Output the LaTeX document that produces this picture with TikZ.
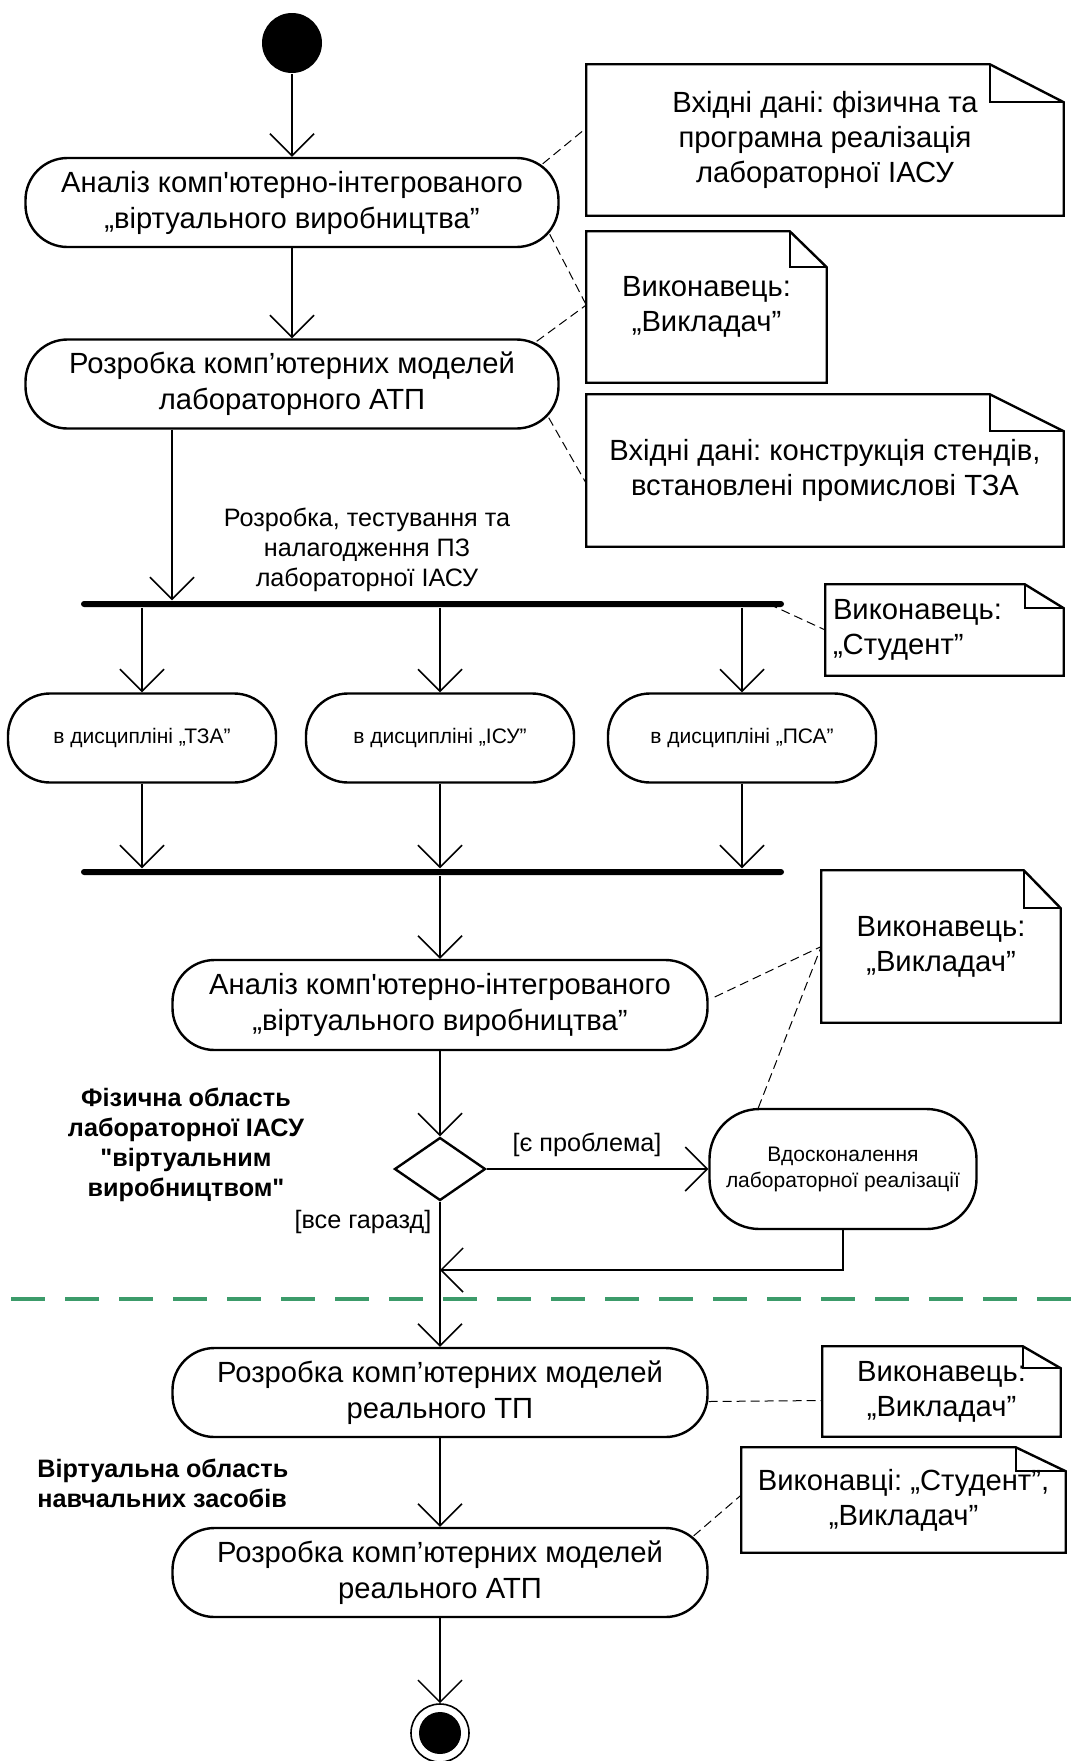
\documentclass[tikz,border=0pt]{standalone}
\usepackage{fontspec}
\setmainfont{Liberation Sans}[Ligatures=TeXOff]
\frenchspacing
\usetikzlibrary{arrows.meta, shapes.geometric, calc}
\definecolor{cgreen}{HTML}{3C9B6A}
\tikzset{
  every picture/.style={line width=0.75pt},
  act/.style={draw, line width=1.2pt, rounded corners=21pt, align=center, inner sep=2pt, minimum height=44.5pt, font=\fontsize{14.6}{18}\selectfont},
  actsm/.style={act, minimum width=134pt, font=\fontsize{10.5}{13}\selectfont},
  notebox/.style={align=center, inner sep=0pt, font=\fontsize{14.6}{17.5}\selectfont},
  noteline/.style={line width=1.2pt, line join=miter},
  flow/.style={-{Straight Barb[length=11pt, width=22pt]}, line width=0.75pt},
  link/.style={dash pattern=on 4.5pt off 2.5pt, line width=0.5pt},
  bar/.style={fill=black, rounded corners=1.5pt, inner sep=0pt, minimum height=3pt, minimum width=351.5pt},
  lbl/.style={font=\fontsize{12.6}{15}\selectfont, align=center},
  blbl/.style={lbl, font=\fontsize{12.6}{15}\selectfont\bfseries},
}
\newcommand{\foldnote}[3]{%
  \draw[noteline] (#1.north west) -- ([xshift=-#2]#1.north east) -- ([yshift=-#3]#1.north east)
    -- (#1.south east) -- (#1.south west) -- cycle;
  \draw[noteline] ([xshift=-#2]#1.north east) |- ([yshift=-#3]#1.north east);}

\begin{document}
\begin{tikzpicture}[x=0.5pt, y=-0.5pt]
  \useasboundingbox (0,0) rectangle (1075,1761);
  % top: models of the laboratory system
  \node[circle, fill=black, minimum size=30pt, inner sep=0pt] (start) at (292,43) {};
  \node[act, minimum width=266.5pt] (a1) at (292,202.5) {Аналіз комп'ютерно-інтегрованого\\„віртуального виробництва”};
  \node[act, minimum width=266.5pt] (a2) at (292,384) {Розробка комп’ютерних моделей\\лабораторного АТП};
  \node[notebox, minimum width=238pt, minimum height=75pt] (n1) at (825,140) {Вхідні дані: фізична та\\програмна реалізація\\лабораторної ІАСУ};
  \node[notebox, minimum width=119.5pt, minimum height=75pt] (n2) at (706.5,307) {Виконавець:\\„Викладач”};
  \node[notebox, minimum width=238pt, minimum height=75.5pt] (n3) at (825,470.5) {Вхідні дані: конструкція стендів,\\встановлені промислові ТЗА};
  \foldnote{n1}{37pt}{19pt} \foldnote{n2}{18.5pt}{18pt} \foldnote{n3}{37pt}{18.5pt}
  \draw[flow] (start) -- (a1);
  \draw[flow] (a1) -- (a2);
  \draw[link] ([xshift=-8.5pt,yshift=-3.5pt]a1.north east) -- ([yshift=6pt]n1.west);
  \draw[link] ([xshift=-5pt,yshift=7pt]a1.south east) -- ([yshift=1pt]n2.west);
  \draw[link] ([xshift=-11.5pt,yshift=-1.5pt]a2.north east) -- ([yshift=1pt]n2.west);
  \draw[link] ([xshift=-5.5pt,yshift=6pt]a2.south east) -- ([yshift=-6.5pt]n3.west);
  % fork into the three disciplines
  \node[bar] (fork) at (432.5,604) {};
  \node[bar] (join) at (432.5,872) {};
  \coordinate (a2out) at ([xshift=-60pt]a2.south);
  \draw[flow] (a2out) -- (a2out |- fork.north);
  \node[lbl] (dev) at (367,550) {Розробка, тестування та\\налагодження ПЗ\\лабораторної ІАСУ};
  \node[actsm] (s1) at (142,738) {в дисципліні „ТЗА”};
  \node[actsm] (s2) at (440,738) {в дисципліні „ІСУ”};
  \node[actsm] (s3) at (742,738) {в дисципліні „ПСА”};
  \foreach \s in {s1,s2,s3} {
    \draw[flow] (fork.south -| \s.north) -- (\s.north);
    \draw[flow] (\s.south) -- (\s.south |- join.north);
  }
  \node[notebox, align=left, text width=111.5pt, inner xsep=3.5pt, minimum height=45pt] (n4) at (944.5,630) {Виконавець:\\„Студент”};
  \foldnote{n4}{19.5pt}{12pt}
  \draw[link] ([xshift=-8pt]fork.east) -- (n4.west);
  % physical area
  \node[act, minimum width=267.5pt, minimum height=45pt] (a3) at (440,1005) {Аналіз комп'ютерно-інтегрованого\\„віртуального виробництва”};
  \node[notebox, minimum width=119pt, minimum height=75.5pt] (n5) at (941,946.5) {Виконавець:\\„Викладач”};
  \foldnote{n5}{18.5pt}{19pt}
  \node[diamond, draw, line width=1.2pt, minimum width=45.5pt, minimum height=31.5pt, inner sep=0pt] (dec) at (440,1169) {};
  \node[actsm, minimum width=133.5pt, minimum height=60pt, rounded corners=25pt] (impr) at (843,1169) {Вдосконалення\\лабораторної реалізації};
  \coordinate (mrg) at (440,1270);
  \draw[flow] (join.south -| a3.north) -- (a3.north);
  \draw[flow] (a3) -- (dec);
  \draw[flow] (dec) -- (impr);
  \draw[flow] (impr.south) |- (mrg);
  \node[lbl] (g1) at (587,1145) {[є проблема]};
  \node[lbl] (g2) at (363,1222) {[все гаразд]};
  \node[blbl] (phys) at (186,1145) {Фізична область\\лабораторної ІАСУ\\"віртуальним\\виробництвом"};
  \draw[link] ([xshift=3pt,yshift=4pt]a3.east) -- (n5.west);
  \draw[link] ([xshift=25pt]impr.north west) -- (n5.west);
  \draw[cgreen, line width=1.75pt, dash pattern=on 17pt off 10pt] (11,1299) -- (1075,1299);
  % virtual area
  \node[act, minimum width=267.5pt] (a4) at (440,1392.5) {Розробка комп’ютерних моделей\\реального ТП};
  \node[act, minimum width=267.5pt] (a5) at (440,1572.5) {Розробка комп’ютерних моделей\\реального АТП};
  \node[notebox, minimum width=118.5pt, minimum height=44.5pt] (n6) at (941.5,1391.5) {Виконавець:\\„Викладач”};
  \node[notebox, minimum width=161.5pt, minimum height=52pt] (n7) at (903.5,1500) {Виконавці: „Студент”,\\„Викладач”};
  \foldnote{n6}{19pt}{11pt} \foldnote{n7}{25pt}{12pt}
  \node[blbl, anchor=west, align=left] (virt) at (30,1483) {Віртуальна область\\навчальних засобів};
  \node[circle, draw, line width=0.8pt, minimum size=29pt, inner sep=0pt] (fin) at (440,1733) {};
  \fill (fin) circle (10.5pt);
  \draw[flow] (dec) -- (a4);
  \draw[flow] (a4) -- (a5);
  \draw[flow] (a5) -- (fin);
  \draw[link] ([yshift=-4.5pt]a4.east) -- ([yshift=-4.5pt]n6.west);
  \draw[link] ([xshift=-7.5pt,yshift=-4.5pt]a5.north east) -- ([yshift=2.5pt]n7.west);
\end{tikzpicture}
\end{document}
